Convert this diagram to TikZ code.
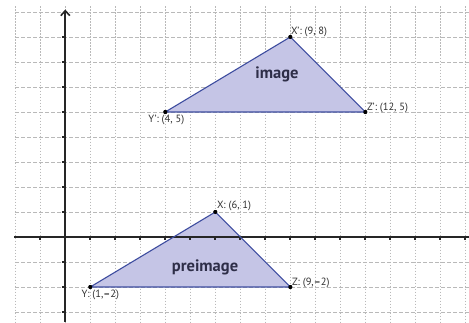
\documentclass[tikz,border=0pt]{standalone}
\usepackage{fontspec}
\setmainfont{PT Sans}
\usetikzlibrary{arrows.meta}
\definecolor{trifill}{HTML}{C5C5E6}
\definecolor{triedge}{HTML}{3F4EA0}
\definecolor{labtxt}{HTML}{303030}
\definecolor{bigtxt}{HTML}{2E2E48}
\begin{document}
\begin{tikzpicture}[x=25pt,y=25pt,
  hgrid/.style={gray!55,line width=0.75pt,dash pattern=on 4pt off 2pt},
  vgrid/.style={gray!55,line width=0.75pt,dash pattern=on 1.5pt off 1.5pt},
  axisline/.style={line width=2.2pt,black!85},
  tri/.style={draw=triedge,line width=1.1pt,fill=trifill,line join=round},
  vdot/.style={circle,fill=black,inner sep=0pt,minimum size=4pt},
  ptlabel/.style={font=\fontsize{10.5}{12}\selectfont,text=labtxt,inner sep=1.5pt},
  bigtext/.style={font=\fontsize{16.5}{19}\selectfont\bfseries,text=bigtxt}]
\useasboundingbox (-2.612,-3.4) rectangle (16.148,9.48);
% grid
\foreach \y in {-3,...,9} \draw[hgrid] (-2,\y) -- (16.148,\y);
\foreach \x in {-2,...,16} \draw[vgrid] (\x,9.22) -- (\x,-3.4);
% triangles
\node[vdot] (Xp) at (9,8) {};
\node[vdot] (Yp) at (4,5) {};
\node[vdot] (Zp) at (12,5) {};
\node[vdot] (X) at (6,1) {};
\node[vdot] (Y) at (1,-2) {};
\node[vdot] (Z) at (9,-2) {};
\fill[trifill] (Xp.center) -- (Yp.center) -- (Zp.center) -- cycle;
\fill[trifill] (X.center) -- (Y.center) -- (Z.center) -- cycle;
% axes
\coordinate (xl) at (-2.05,0);
\coordinate (xr) at (16.148,0);
\coordinate (yb) at (0,-3.4);
\coordinate (yt) at (0,9.1);
\draw[axisline] (xl) -- (xr);
\draw[axisline,-{Straight Barb[length=5pt,width=9pt,line width=1.6pt]}] (yb) -- (yt);
\foreach \y in {-3,-2,-1,1,2,3,4,5,6,7,8} \draw[line width=1.8pt,black!85] (-0.13,\y) -- (0,\y);
\foreach \x in {-1,1,2,...,16} \draw[line width=1.8pt,black!85] (\x,0) -- (\x,-0.13);
% triangle edges
\draw[tri,fill=none] (Xp.center) -- (Yp.center) -- (Zp.center) -- cycle;
\draw[tri,fill=none] (X.center) -- (Y.center) -- (Z.center) -- cycle;
\foreach \n in {Xp,Yp,Zp,X,Y,Z} \node[vdot] at (\n) {};
% labels
\node[ptlabel,anchor=south west,xshift=-1pt,yshift=-2pt] (lXp) at (Xp) {X’: (9, 8)};
\node[ptlabel,anchor=south west,yshift=-3pt] (lZp) at (Zp) {Z’: (12, 5)};
\node[ptlabel,anchor=north,xshift=1pt,yshift=-1pt] (lYp) at (Yp) {Y’: (4, 5)};
\node[ptlabel,anchor=south west,yshift=-1pt] (lX) at (X) {X: (6, 1)};
\node[ptlabel,anchor=south west,yshift=-3pt] (lZ) at (Z) {Z: (9,{\bfseries –}2)};
\node[ptlabel,anchor=north,xshift=10pt,yshift=-1pt] (lY) at (Y) {Y: (1,{\bfseries –}2)};
\node[bigtext] (img) at (8.47,6.5) {image};
\node[bigtext] (pre) at (5.59,-1.2) {preimage};
\end{tikzpicture}
\end{document}
